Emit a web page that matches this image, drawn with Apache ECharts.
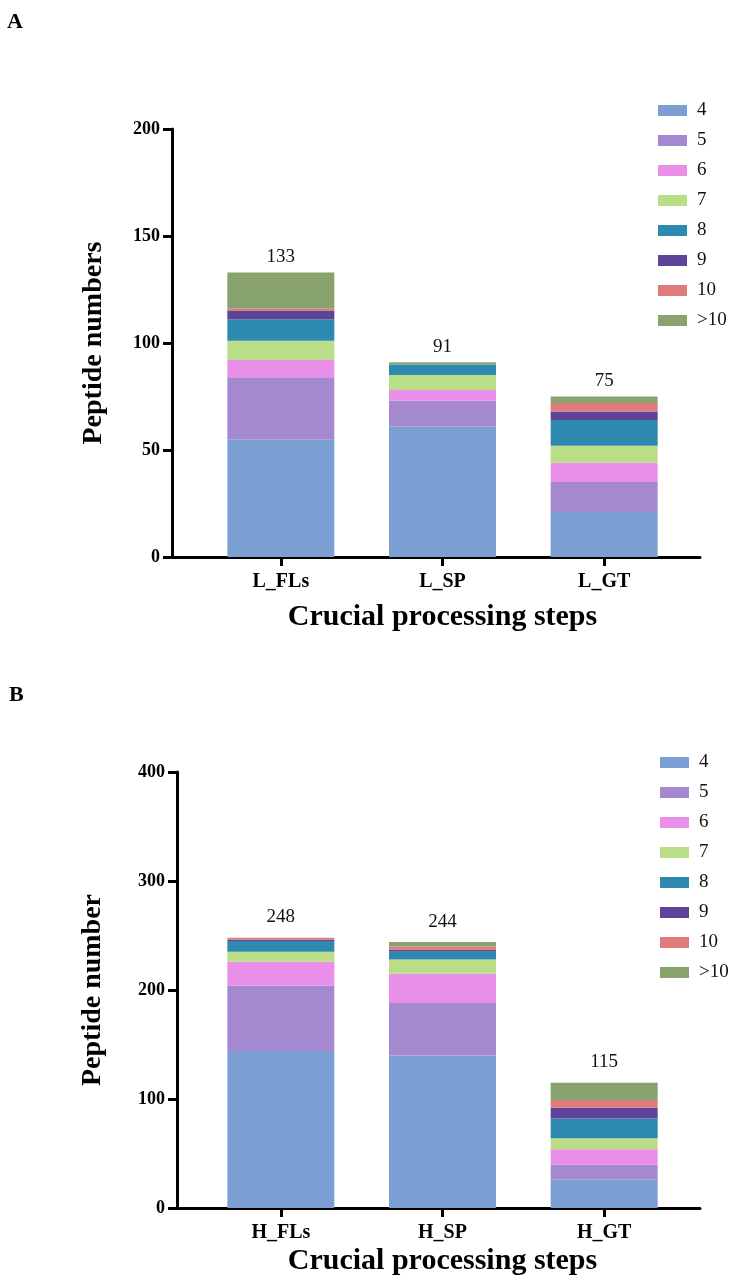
<!DOCTYPE html>
<html>
<head>
<meta charset="utf-8">
<style>
  html, body { margin: 0; padding: 0; background: #ffffff; }
  #chart { width: 738px; height: 1280px; }
</style>
<script src="https://cdn.jsdelivr.net/npm/echarts@6/dist/echarts.min.js"></script>
</head>
<body>
<div id="chart"></div>
<script>
// ---- data ----
const sizeClasses = ['4', '5', '6', '7', '8', '9', '10', '>10'];
const categoriesA = ['L_FLs', 'L_SP', 'L_GT'];
const categoriesB = ['H_FLs', 'H_SP', 'H_GT'];
// peptide counts per size class (order of sizeClasses)
const L_FLs = [55, 29, 8, 9, 10, 4, 1, 17];
const L_SP  = [61, 12, 5, 7, 5, 0, 0, 1];
const L_GT  = [21, 14, 9, 8, 12, 4, 4, 3];
const H_FLs = [144, 60, 22, 9, 10, 1, 2, 0];
const H_SP  = [140, 48, 27, 13, 7, 2, 3, 4];
const H_GT  = [26, 14, 14, 10, 18, 10, 7, 16];
const yTicksA = [0, 50, 100, 150, 200];
const yTicksB = [0, 100, 200, 300, 400];

const colors = ['#7b9fd3', '#a589d0', '#e98fe8', '#b9de87', '#2d89af', '#5e4499', '#e07b7c', '#89a36f'];
const FONT = 'Liberation Serif';

const groupsA = [L_FLs, L_SP, L_GT];
const groupsB = [H_FLs, H_SP, H_GT];
const sum = a => a.reduce((s, v) => s + v, 0);
const totalsA = groupsA.map(sum);
const totalsB = groupsB.map(sum);

function makeSeries(groups, totals, gridIdx, stack, labelDist) {
  return sizeClasses.map((name, i) => ({
    name: name,
    type: 'bar',
    stack: stack,
    xAxisIndex: gridIdx,
    yAxisIndex: gridIdx,
    barWidth: 107,
    itemStyle: { color: colors[i] },
    data: groups.map(g => g[i]),
    label: i === sizeClasses.length - 1 ? {
      show: true,
      position: 'top',
      distance: labelDist,
      formatter: p => String(totals[p.dataIndex]),
      fontFamily: FONT,
      fontSize: 19,
      color: '#111'
    } : { show: false }
  }));
}

function yAxisCfg(gridIdx, ticks, name, offset, nameGap) {
  return {
    type: 'value',
    gridIndex: gridIdx,
    min: ticks[0],
    max: ticks[ticks.length - 1],
    interval: ticks[1] - ticks[0],
    offset: offset,
    name: name,
    nameLocation: 'middle',
    nameGap: nameGap,
    nameTextStyle: { fontFamily: FONT, fontWeight: 'bold', fontSize: 28, color: '#000' },
    axisLine: { show: true, lineStyle: { color: '#000', width: 3 } },
    axisTick: { show: true, length: 9, lineStyle: { color: '#000', width: 3 } },
    axisLabel: { margin: 12, fontFamily: FONT, fontWeight: 'bold', fontSize: 18, color: '#000' },
    splitLine: { show: false }
  };
}

function xAxisCfg(gridIdx, cats, nameGap) {
  return {
    type: 'category',
    gridIndex: gridIdx,
    data: cats,
    name: 'Crucial processing steps',
    nameLocation: 'middle',
    nameGap: nameGap,
    nameTextStyle: { fontFamily: FONT, fontWeight: 'bold', fontSize: 30, color: '#000' },
    axisLine: { show: true, lineStyle: { color: '#000', width: 3 } },
    axisTick: { show: true, alignWithLabel: true, length: 9, lineStyle: { color: '#000', width: 3 } },
    axisLabel: { margin: 15, fontFamily: FONT, fontWeight: 'bold', fontSize: 20, color: '#000' },
    splitLine: { show: false }
  };
}

function decoX(gridIdx) {
  return {
    type: 'value', gridIndex: gridIdx, min: 0, max: 1,
    axisLine: { show: true, lineStyle: { color: '#000', width: 3 } },
    axisTick: { show: false }, axisLabel: { show: false }, splitLine: { show: false }
  };
}
function decoY(gridIdx) {
  return { type: 'value', gridIndex: gridIdx, min: 0, max: 1, show: false, splitLine: { show: false } };
}

function legendCfg(left, top) {
  return {
    orient: 'vertical',
    left: left,
    top: top,
    icon: 'rect',
    itemWidth: 29,
    itemHeight: 11,
    itemGap: 11,
    selectedMode: false,
    data: sizeClasses,
    textStyle: { fontFamily: FONT, fontSize: 19, color: '#111', padding: [0, 0, 0, 5] }
  };
}

const chart = echarts.init(document.getElementById('chart'), null, { renderer: 'canvas' });
chart.setOption({
  backgroundColor: '#ffffff',
  animation: false,
  title: [
    { text: 'A', left: 2, top: 6, textStyle: { fontFamily: FONT, fontWeight: 'bold', fontSize: 22, color: '#000' } },
    { text: 'B', left: 4, top: 679, textStyle: { fontFamily: FONT, fontWeight: 'bold', fontSize: 22, color: '#000' } }
  ],
  legend: [legendCfg(653, 96), legendCfg(655, 748)],
  grid: [
    { left: 200, top: 129, width: 485, height: 428, outerBoundsMode: 'none' },
    { left: 200, top: 772, width: 485, height: 436, outerBoundsMode: 'none' },
    { left: 172, top: 129, width: 528, height: 428, outerBoundsMode: 'none' },
    { left: 177, top: 772, width: 523, height: 436, outerBoundsMode: 'none' }
  ],
  xAxis: [xAxisCfg(0, categoriesA, 45), xAxisCfg(1, categoriesB, 38), decoX(2), decoX(3)],
  yAxis: [yAxisCfg(0, yTicksA, 'Peptide numbers', 28, 64), yAxisCfg(1, yTicksB, 'Peptide number', 23, 70), decoY(2), decoY(3)],
  series: [].concat(makeSeries(groupsA, totalsA, 0, 'A', 6), makeSeries(groupsB, totalsB, 1, 'B', 11))
});
</script>
</body>
</html>
